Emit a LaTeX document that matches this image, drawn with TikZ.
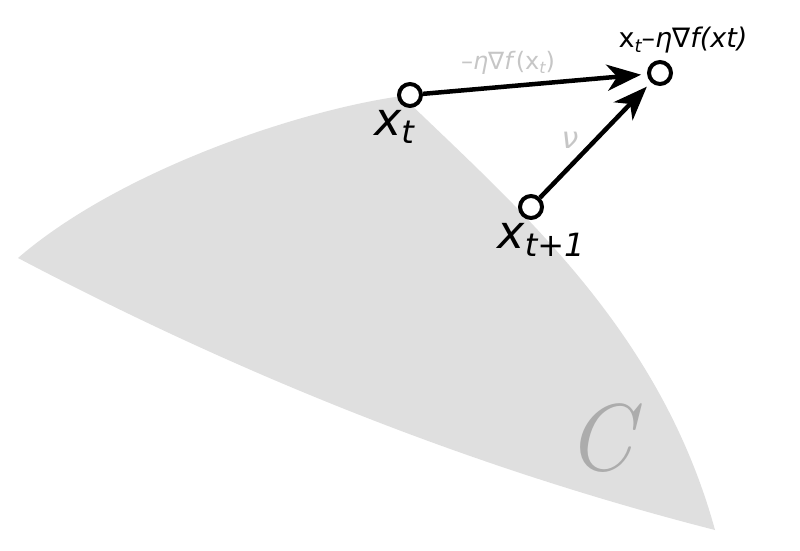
\documentclass[tikz,border=0pt]{standalone}
\usepackage{fontspec}
\setmainfont{DejaVu Sans}
\newfontfamily\lmr{Latin Modern Roman}
\usetikzlibrary{arrows.meta}
\begin{document}
\begin{tikzpicture}[x=1pt,y=-1pt,
  pt/.style={circle,draw=black,fill=white,line width=4pt,minimum size=22pt,inner sep=0pt},
  arr/.style={line width=4.5pt,-{Stealth[length=34pt,width=26pt,inset=10pt]},shorten >=6pt}]
\useasboundingbox (0,0) rectangle (800,551);
\fill[gray!25] (18,258) .. controls (120,170) and (300,110) .. (402,96)
  .. controls (520,210) and (660,330) .. (715,530)
  .. controls (480,470) and (250,380) .. cycle;
\node[pt] (a) at (410,95) {};
\node[pt] (b) at (660,73) {};
\node[pt] (c) at (531,207) {};
\draw[arr] (a) -- (b);
\draw[arr] (c) -- (b);
\node[font=\fontsize{46}{48}\selectfont\itshape] (la) at (394,127) {x\raisebox{-8pt}{\fontsize{32}{34}\selectfont t}};
\node[font=\fontsize{46}{48}\selectfont\itshape] (lc) at (541,240) {x\raisebox{-8pt}{\fontsize{32}{34}\selectfont t+1}};
\node[font=\fontsize{27}{29}\selectfont] (lb) at (683,40) {x\raisebox{-5pt}{\fontsize{18}{19}\selectfont\itshape t}–\textit{η}∇\textit{f(xt)}};
\node[font=\fontsize{24}{26}\selectfont,text=gray!45] (lab) at (508,63) {–\textit{η}∇\textit{f}(x\raisebox{-4pt}{\fontsize{16}{17}\selectfont\itshape t})};
\node[font=\fontsize{30}{32}\selectfont\itshape,text=gray!45] (lcb) at (570,140) {ν};
\node[text=gray!65,font=\fontsize{95}{95}\selectfont\lmr\itshape] (C) at (600,438) {C};
\end{tikzpicture}
\end{document}
